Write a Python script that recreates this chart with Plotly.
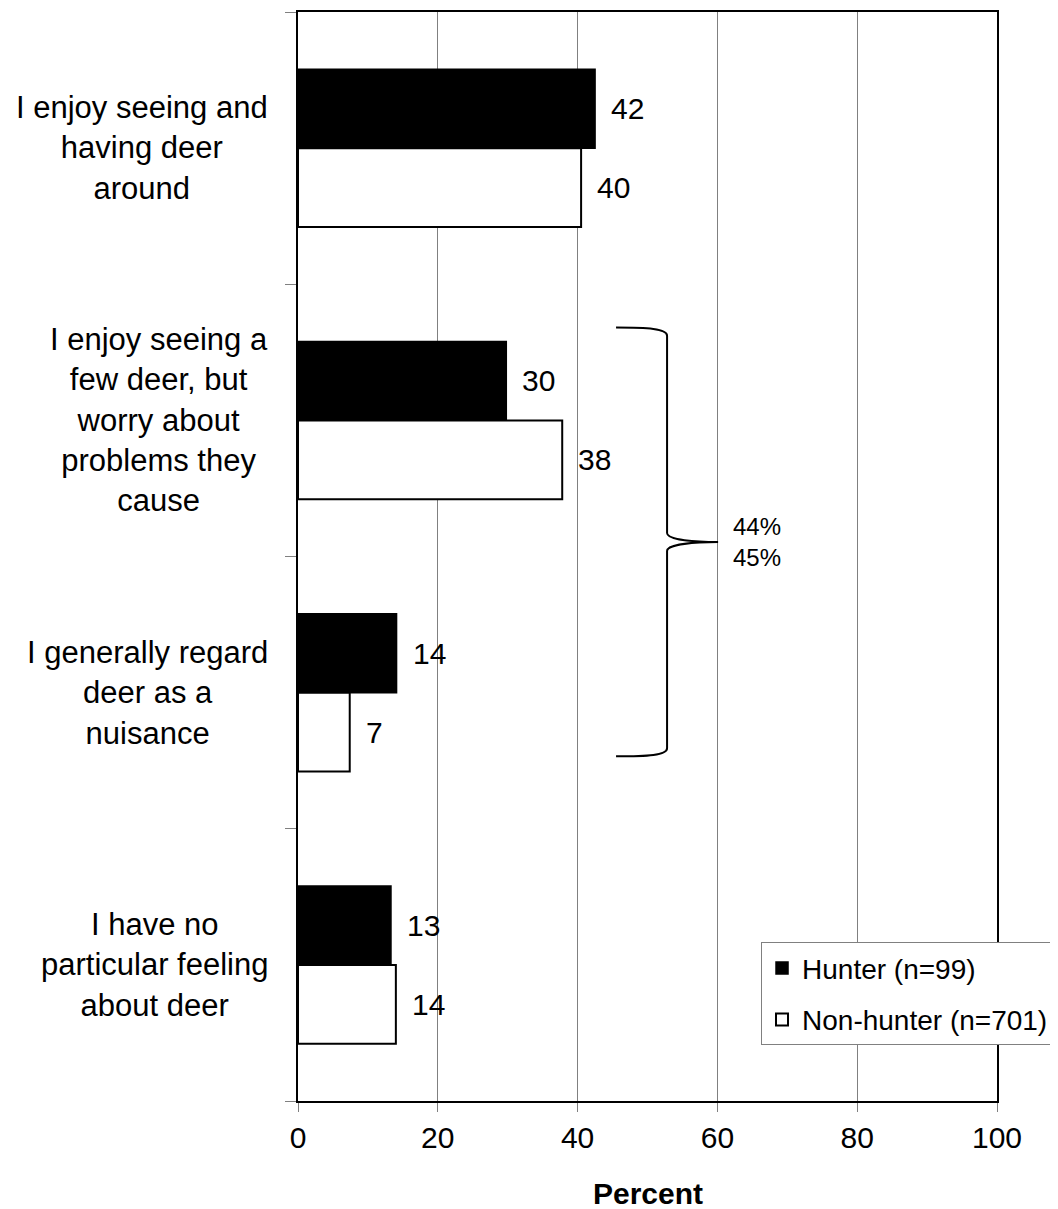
import plotly.graph_objects as go

# ---- data ----
categories = [
    "I enjoy seeing and<br>having deer<br>around",
    "I enjoy seeing a<br>few deer, but<br>worry about<br>problems they<br>cause",
    "I generally regard<br>deer as a<br>nuisance",
    "I have no<br>particular feeling<br>about deer",
]
series_names = ["Hunter (n=99)", "Non-hunter (n=701)"]
hunter_values = [42.5, 29.8, 14.1, 13.3]
nonhunter_values = [40.5, 37.8, 7.4, 14.0]
hunter_labels = ["42", "30", "14", "13"]
nonhunter_labels = ["40", "38", "7", "14"]
x_ticks = [0, 20, 40, 60, 80, 100]
brace_labels = "44%<br>45%"
axis_title = "Percent"

FONT = "Liberation Sans, Arial, Helvetica, sans-serif"
BARGAP = 0.42

ypos = list(range(len(categories)))

fig = go.Figure()
fig.add_trace(go.Bar(
    y=ypos, x=hunter_values, orientation="h", name=series_names[0],
    marker=dict(color="black", line=dict(color="black", width=1.5)),
    legendgroup="h", hoverinfo="x",
))
fig.add_trace(go.Bar(
    y=ypos, x=nonhunter_values, orientation="h", name=series_names[1],
    marker=dict(color="white", line=dict(color="black", width=2)),
    legendgroup="n", hoverinfo="x",
))

half = (1 - BARGAP) / 4.0
annotations = []
for i, (hv, nv, hl, nl) in enumerate(zip(hunter_values, nonhunter_values, hunter_labels, nonhunter_labels)):
    annotations.append(dict(x=hv, y=i - half, xref="x", yref="y", text=hl, showarrow=False,
                            xanchor="left", yanchor="middle", xshift=14,
                            font=dict(family=FONT, size=30, color="black")))
    annotations.append(dict(x=nv, y=i + half, xref="x", yref="y", text=nl, showarrow=False,
                            xanchor="left", yanchor="middle", xshift=14,
                            font=dict(family=FONT, size=30, color="black")))

for i, c in enumerate(categories):
    annotations.append(dict(x=0, y=i, xref="paper", yref="y", text=c, showarrow=False,
                            xanchor="right", yanchor="middle", align="center", xshift=-28,
                            font=dict(family=FONT, size=31, color="black")))

annotations.append(dict(x=60, y=1.447, xref="x", yref="y", text=brace_labels, showarrow=False,
                        xanchor="left", yanchor="middle", align="left", xshift=14,
                        font=dict(family=FONT, size=24, color="black")))

annotations.append(dict(x=0.5, y=0, xref="paper", yref="paper", text="<b>" + axis_title + "</b>",
                        showarrow=False, xanchor="center", yanchor="middle", yshift=-92,
                        font=dict(family=FONT, size=30, color="black")))

# curly brace (decoration)
xa, xb, xc = 45.5, 52.8, 60.1
brace = (f"M {xa},0.659 C 50,0.659 {xb},0.663 {xb},0.689 "
         f"L {xb},1.414 C {xb},1.440 57,1.447 {xc},1.447 "
         f"C 57,1.447 {xb},1.454 {xb},1.480 "
         f"L {xb},2.204 C {xb},2.230 50,2.234 {xa},2.234")

fig.update_layout(
    width=1050, height=1201,
    margin=dict(l=290, r=61, t=2, b=108, pad=0),
    paper_bgcolor="white", plot_bgcolor="white",
    barmode="group", bargap=BARGAP, bargroupgap=0,
    font=dict(family=FONT, size=30, color="black"),
    showlegend=True,
    legend=dict(x=0.6624, y=0.1457, xanchor="left", yanchor="top",
                bgcolor="white", bordercolor="#808080", borderwidth=1,
                font=dict(family=FONT, size=28, color="black"),
                tracegroupgap=12, traceorder="grouped"),
    annotations=annotations,
    shapes=[dict(type="path", path=brace, xref="x", yref="y",
                 line=dict(color="black", width=2))],
    xaxis=dict(range=[0, 100], tickvals=x_ticks, ticks="outside", ticklen=9,
               tickcolor="#808080", tickwidth=1,
               showgrid=True, gridcolor="#808080", gridwidth=1,
               showline=True, linecolor="black", linewidth=2, mirror=True,
               zeroline=False, tickfont=dict(family=FONT, size=30, color="black")),
    yaxis=dict(range=[len(categories) - 0.5, -0.5],
               tickvals=[i - 0.5 for i in range(len(categories) + 1)],
               showticklabels=False, ticks="outside", ticklen=11,
               tickcolor="#808080", tickwidth=1,
               showgrid=False, zeroline=False,
               showline=True, linecolor="black", linewidth=2, mirror=True),
)

fig.write_html("out.html")
